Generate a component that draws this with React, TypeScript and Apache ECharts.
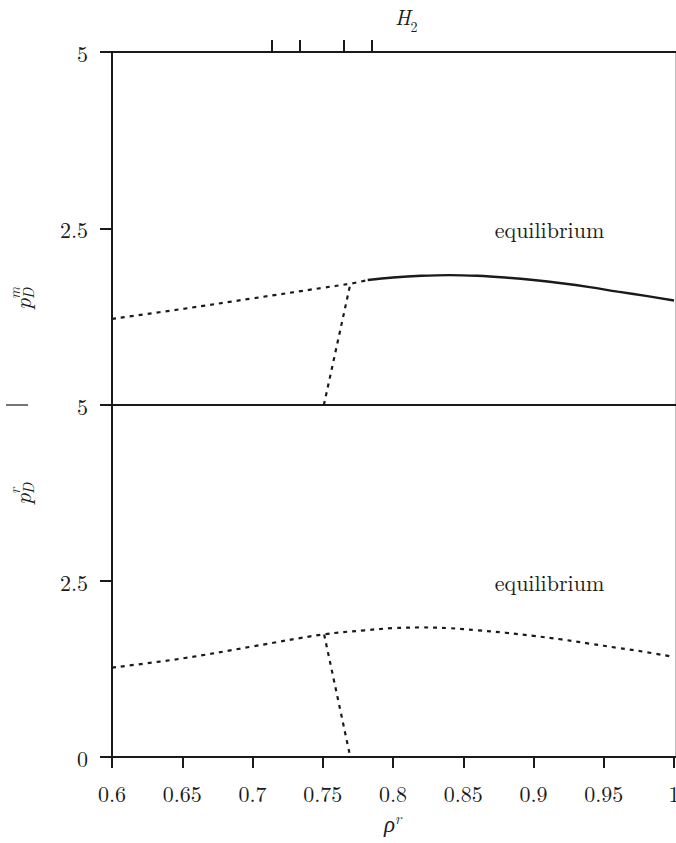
import React, { useEffect, useRef } from "react";
import * as echarts from "echarts";

// x grid (rho^r)
const xTicks = [0.6, 0.65, 0.7, 0.75, 0.8, 0.85, 0.9, 0.95, 1];
const yTicks = [0, 2.5, 5];
// H2 marks on the top axis
const h2Marks = [0.7135, 0.7334, 0.765, 0.785];

// upper panel p_D^m
const upperDottedX = [0.6, 0.65, 0.7, 0.75, 0.77, 0.782];
const upperDottedY = [1.22, 1.36, 1.51, 1.66, 1.72, 1.77];
const upperSolidX = [0.782, 0.8, 0.82, 0.84, 0.86, 0.88, 0.9, 0.92, 0.94, 0.96, 0.98, 1.0];
const upperSolidY = [1.77, 1.805, 1.83, 1.84, 1.83, 1.805, 1.77, 1.725, 1.67, 1.605, 1.545, 1.48];
const upperBranchX = [0.7508, 0.7698];
const upperBranchY = [0, 1.73];

// lower panel p_D^r
const lowerDashedX = [0.6, 0.65, 0.7, 0.75, 0.78, 0.8, 0.82, 0.84, 0.86, 0.88, 0.9, 0.92, 0.94, 0.96, 0.98, 1.0];
const lowerDashedY = [1.27, 1.4, 1.57, 1.74, 1.8, 1.83, 1.84, 1.83, 1.8, 1.765, 1.72, 1.67, 1.61, 1.55, 1.49, 1.42];
const lowerBranchX = [0.751, 0.7696];
const lowerBranchY = [1.74, 0];

const zip = (xs: number[], ys: number[]) => xs.map((x, i) => [x, ys[i]]);

const FONT = "'Latin Modern Roman', 'Liberation Serif', serif";
const INK = "#1a1a1a";

export default function App() {
  const ref = useRef<HTMLDivElement>(null);
  useEffect(() => {
    if (!ref.current) return;
    const chart = echarts.init(ref.current, undefined, { renderer: "svg" });
    const axisLine = { show: true, lineStyle: { color: INK, width: 2 } };
    const dashed = { color: INK, width: 2.2, type: [4, 5] as any };
    const gridBase = { left: 112, width: 562, outerBoundsMode: "none", containLabel: false } as any;
    const yAxisBase = (gi: number, hideZero: boolean) => ({
      type: "value",
      gridIndex: gi,
      min: 0,
      max: 5,
      interval: 2.5,
      axisLine,
      axisTick: { show: true, inside: false, length: 12, customValues: yTicks, lineStyle: { color: INK, width: 2 } },
      axisLabel: {
        show: true,
        margin: 24,
        fontSize: 22,
        fontFamily: FONT,
        color: INK,
        formatter: (v: number) => (hideZero && v === 0 ? "" : String(v)),
      },
      splitLine: { show: false },
    });
    const italic = (text: string, x: number, y: number, size: number) => ({
      type: "text",
      x,
      y,
      style: { text, fontSize: size, fontFamily: FONT, fontStyle: "italic", fill: INK, textAlign: "left", textVerticalAlign: "middle" },
    });
    const option: any = {
      animation: false,
      backgroundColor: "#fff",
      grid: [
        { ...gridBase, top: 52, height: 353 },
        { ...gridBase, top: 405, height: 352 },
      ],
      xAxis: [
        {
          type: "value", gridIndex: 0, position: "bottom", min: 0.6, max: 1,
          axisLine, axisTick: { show: false }, axisLabel: { show: false }, splitLine: { show: false },
        },
        {
          type: "value", gridIndex: 0, position: "top", min: 0.6, max: 1,
          axisLine,
          axisTick: { show: true, inside: false, length: 12, customValues: h2Marks, lineStyle: { color: INK, width: 2 } },
          axisLabel: { show: false },
          splitLine: { show: false },
        },
        {
          type: "value", gridIndex: 1, position: "bottom", min: 0.6, max: 1, interval: 0.05,
          axisLine,
          axisTick: { show: true, inside: false, length: 11, customValues: xTicks, lineStyle: { color: INK, width: 2 } },
          axisLabel: {
            show: true, margin: 24, fontSize: 22, fontFamily: FONT, color: INK, customValues: xTicks,
            hideOverlap: false, showMinLabel: true, showMaxLabel: true,
            formatter: (v: number) => String(Math.round(v * 100) / 100),
          },
          splitLine: { show: false },
        },
      ],
      yAxis: [yAxisBase(0, true), yAxisBase(1, false)],
      series: [
        { type: "line", xAxisIndex: 0, yAxisIndex: 0, data: zip(upperDottedX, upperDottedY), showSymbol: false, lineStyle: dashed, smooth: 0.4 },
        { type: "line", xAxisIndex: 0, yAxisIndex: 0, data: zip(upperSolidX, upperSolidY), showSymbol: false, lineStyle: { color: INK, width: 2.4 }, smooth: 0.4 },
        { type: "line", xAxisIndex: 0, yAxisIndex: 0, data: zip(upperBranchX, upperBranchY), showSymbol: false, lineStyle: dashed },
        { type: "line", xAxisIndex: 2, yAxisIndex: 1, data: zip(lowerDashedX, lowerDashedY), showSymbol: false, lineStyle: dashed, smooth: 0.4 },
        { type: "line", xAxisIndex: 2, yAxisIndex: 1, data: zip(lowerBranchX, lowerBranchY), showSymbol: false, lineStyle: dashed },
      ],
      graphic: [
        { type: "text", x: 549.5, y: 228, style: { text: "equilibrium", fontSize: 22, fontFamily: FONT, fill: INK, textAlign: "center", textVerticalAlign: "middle" } },
        { type: "text", x: 549.5, y: 581, style: { text: "equilibrium", fontSize: 22, fontFamily: FONT, fill: INK, textAlign: "center", textVerticalAlign: "middle" } },
        // H_2 title
        {
          type: "text", x: 395, y: 19,
          style: {
            text: "{a|H}{b|2}", textAlign: "left", textVerticalAlign: "middle", fill: INK, fontFamily: FONT,
            rich: {
              a: { fontSize: 21, fontStyle: "italic", fontFamily: FONT, lineHeight: 28, verticalAlign: "top" },
              b: { fontSize: 14, fontFamily: FONT, lineHeight: 28, verticalAlign: "bottom" },
            },
          },
        },
        // x title rho^r
        {
          type: "text", x: 384, y: 822,
          style: {
            text: "{a|ρ}{b|r}", textAlign: "left", textVerticalAlign: "middle", fill: INK, fontFamily: FONT,
            rich: {
              a: { fontSize: 23, fontStyle: "italic", fontFamily: FONT, lineHeight: 24, verticalAlign: "bottom" },
              b: { fontSize: 15, fontStyle: "italic", fontFamily: FONT, lineHeight: 24, verticalAlign: "top" },
            },
          },
        },
        // y titles
        {
          type: "group", x: 21, y: 310, rotation: Math.PI / 2,
          children: [italic("p", 0, 0, 23), italic("D", 11, 6, 15), italic("m", 11, -8, 15)],
        },
        {
          type: "group", x: 21, y: 505, rotation: Math.PI / 2,
          children: [italic("p", 0, 0, 23), italic("D", 11, 6, 15), italic("r", 11, -8, 15)],
        },
        // small separator dash at left
        { type: "line", shape: { x1: 6, y1: 405, x2: 28, y2: 405 }, style: { stroke: INK, lineWidth: 1.2 } },
        // right frame
        { type: "line", shape: { x1: 675.5, y1: 52, x2: 675.5, y2: 757 }, style: { stroke: "#bbb", lineWidth: 1 } },
        // extend horizontal axis lines to right edge
        { type: "line", shape: { x1: 674, y1: 52, x2: 676, y2: 52 }, style: { stroke: INK, lineWidth: 2 } },
        { type: "line", shape: { x1: 674, y1: 405, x2: 676, y2: 405 }, style: { stroke: INK, lineWidth: 2 } },
        { type: "line", shape: { x1: 674, y1: 757, x2: 676, y2: 757 }, style: { stroke: INK, lineWidth: 2 } },
      ],
    };
    chart.setOption(option);
    return () => chart.dispose();
  }, []);
  return <div ref={ref} style={{ position: "absolute", left: 0, top: 0, width: 676, height: 843 }} />;
}
